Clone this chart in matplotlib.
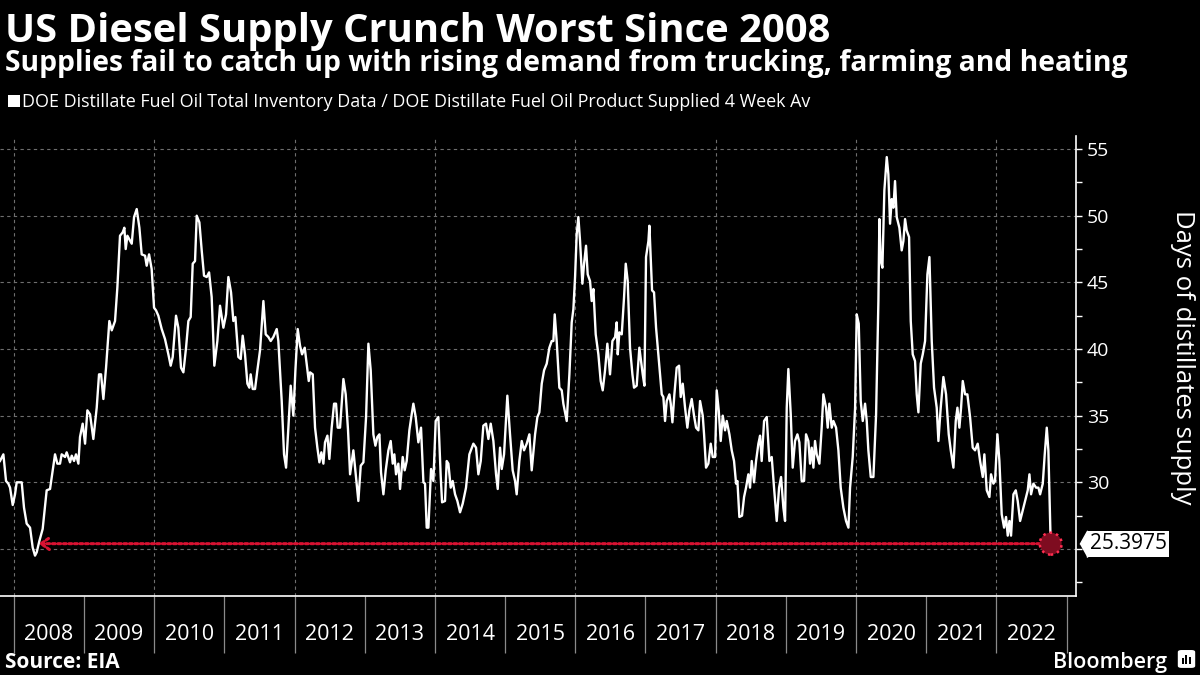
import matplotlib

matplotlib.use("Agg")
import matplotlib.pyplot as plt
from matplotlib.patches import FancyBboxPatch, Rectangle
from matplotlib.transforms import blended_transform_factory, offset_copy

# weekly days-of-supply ratio (decimal year, days)
years = [
    2007.803, 2007.851, 2007.889, 2007.922, 2007.946, 2007.984, 2008.017, 2008.041, 2008.112, 2008.145,
    2008.183, 2008.231, 2008.269, 2008.302, 2008.326, 2008.364, 2008.411, 2008.468, 2008.516, 2008.587,
    2008.620, 2008.658, 2008.682, 2008.730, 2008.753, 2008.801, 2008.825, 2008.858, 2008.886, 2008.920,
    2008.943, 2008.981, 2009.015, 2009.048, 2009.086, 2009.133, 2009.181, 2009.214, 2009.243, 2009.276,
    2009.314, 2009.361, 2009.395, 2009.442, 2009.475, 2009.513, 2009.551, 2009.575, 2009.594, 2009.618,
    2009.680, 2009.713, 2009.751, 2009.789, 2009.822, 2009.870, 2009.893, 2009.927, 2009.964, 2009.998,
    2010.026, 2010.059, 2010.107, 2010.154, 2010.202, 2010.235, 2010.264, 2010.311, 2010.344, 2010.382,
    2010.416, 2010.454, 2010.487, 2010.520, 2010.549, 2010.582, 2010.606, 2010.644, 2010.677, 2010.710,
    2010.748, 2010.782, 2010.819, 2010.857, 2010.900, 2010.938, 2010.986, 2011.024, 2011.057, 2011.095,
    2011.128, 2011.157, 2011.199, 2011.233, 2011.261, 2011.294, 2011.328, 2011.356, 2011.375, 2011.404,
    2011.437, 2011.470, 2011.508, 2011.556, 2011.589, 2011.627, 2011.660, 2011.698, 2011.746, 2011.769,
    2011.817, 2011.850, 2011.879, 2011.912, 2011.945, 2011.983, 2012.012, 2012.045, 2012.078, 2012.107,
    2012.145, 2012.183, 2012.202, 2012.221, 2012.259, 2012.292, 2012.325, 2012.354, 2012.382, 2012.411,
    2012.434, 2012.468, 2012.496, 2012.529, 2012.563, 2012.591, 2012.615, 2012.648, 2012.696, 2012.729,
    2012.762, 2012.791, 2012.838, 2012.871, 2012.909, 2012.943, 2012.981, 2013.019, 2013.052, 2013.085,
    2013.123, 2013.152, 2013.180, 2013.209, 2013.232, 2013.266, 2013.299, 2013.337, 2013.370, 2013.399,
    2013.422, 2013.446, 2013.479, 2013.503, 2013.541, 2013.569, 2013.598, 2013.636, 2013.669, 2013.693,
    2013.726, 2013.764, 2013.802, 2013.836, 2013.859, 2013.883, 2013.907, 2013.945, 2013.978, 2014.011,
    2014.049, 2014.083, 2014.102, 2014.144, 2014.168, 2014.192, 2014.225, 2014.253, 2014.287, 2014.320,
    2014.358, 2014.396, 2014.443, 2014.491, 2014.548, 2014.586, 2014.619, 2014.653, 2014.690, 2014.728,
    2014.762, 2014.795, 2014.833, 2014.871, 2014.895, 2014.928, 2014.952, 2014.985, 2015.032, 2015.070,
    2015.108, 2015.142, 2015.165, 2015.203, 2015.237, 2015.270, 2015.308, 2015.346, 2015.379, 2015.427,
    2015.460, 2015.488, 2015.522, 2015.555, 2015.593, 2015.631, 2015.664, 2015.688, 2015.707, 2015.735,
    2015.773, 2015.807, 2015.830, 2015.878, 2015.916, 2015.949, 2015.973, 2015.997, 2016.020, 2016.044,
    2016.068, 2016.101, 2016.125, 2016.153, 2016.177, 2016.210, 2016.234, 2016.258, 2016.291, 2016.329,
    2016.362, 2016.391, 2016.424, 2016.457, 2016.495, 2016.529, 2016.567, 2016.590, 2016.605, 2016.628,
    2016.662, 2016.695, 2016.719, 2016.747, 2016.780, 2016.814, 2016.837, 2016.875, 2016.913, 2016.961,
    2016.985, 2017.008, 2017.042, 2017.056, 2017.075, 2017.094, 2017.122, 2017.151, 2017.184, 2017.208,
    2017.232, 2017.255, 2017.279, 2017.303, 2017.341, 2017.360, 2017.384, 2017.412, 2017.445, 2017.479,
    2017.502, 2017.531, 2017.564, 2017.597, 2017.626, 2017.659, 2017.692, 2017.721, 2017.754, 2017.778,
    2017.816, 2017.835, 2017.863, 2017.896, 2017.930, 2017.958, 2017.992, 2018.015, 2018.044, 2018.072,
    2018.101, 2018.134, 2018.158, 2018.196, 2018.229, 2018.262, 2018.291, 2018.310, 2018.338, 2018.376,
    2018.405, 2018.433, 2018.466, 2018.490, 2018.514, 2018.547, 2018.576, 2018.609, 2018.633, 2018.656,
    2018.690, 2018.728, 2018.766, 2018.799, 2018.832, 2018.870, 2018.904, 2018.932, 2018.965, 2018.989,
    2019.013, 2019.036, 2019.070, 2019.098, 2019.131, 2019.165, 2019.193, 2019.226, 2019.260, 2019.288,
    2019.321, 2019.345, 2019.369, 2019.393, 2019.416, 2019.440, 2019.478, 2019.511, 2019.535, 2019.573,
    2019.597, 2019.620, 2019.654, 2019.678, 2019.716, 2019.749, 2019.782, 2019.820, 2019.858, 2019.892,
    2019.915, 2019.953, 2019.987, 2020.010, 2020.039, 2020.067, 2020.096, 2020.129, 2020.153, 2020.176,
    2020.210, 2020.248, 2020.286, 2020.319, 2020.333, 2020.352, 2020.376, 2020.404, 2020.438, 2020.461,
    2020.485, 2020.509, 2020.533, 2020.556, 2020.580, 2020.618, 2020.651, 2020.675, 2020.699, 2020.722,
    2020.756, 2020.780, 2020.808, 2020.841, 2020.865, 2020.889, 2020.922, 2020.951, 2020.984, 2021.017,
    2021.046, 2021.079, 2021.112, 2021.150, 2021.174, 2021.207, 2021.245, 2021.283, 2021.321, 2021.350,
    2021.388, 2021.421, 2021.445, 2021.473, 2021.497, 2021.521, 2021.554, 2021.587, 2021.625, 2021.663,
    2021.696, 2021.734, 2021.768, 2021.806, 2021.829, 2021.863, 2021.901, 2021.924, 2021.958, 2021.981,
    2022.015, 2022.043, 2022.076, 2022.110, 2022.138, 2022.162, 2022.186, 2022.209, 2022.243, 2022.276,
    2022.304, 2022.338, 2022.376, 2022.409, 2022.447, 2022.471, 2022.494, 2022.528, 2022.566, 2022.599,
    2022.623, 2022.661, 2022.689, 2022.718, 2022.741, 2022.774,
]
days = [
    31.6, 32.1, 30.1, 29.9, 29.6, 28.3, 29.1, 30.0, 30.0, 28.1,
    26.9, 26.6, 25.1, 24.5, 24.75, 25.6, 26.5, 29.4, 29.5, 32.1,
    31.4, 31.4, 32.1, 31.9, 32.25, 31.5, 32.0, 31.6, 32.1, 31.4,
    33.4, 34.4, 32.9, 35.4, 35.1, 33.25, 35.6, 38.1, 38.1, 36.25,
    38.6, 42.1, 41.4, 42.1, 44.6, 48.5, 48.75, 49.1, 47.5, 48.5,
    47.9, 49.9, 50.5, 49.1, 47.1, 47.0, 46.25, 47.1, 46.0, 43.1,
    42.9, 42.5, 41.5, 40.75, 39.6, 38.75, 39.4, 42.5, 41.6, 38.6,
    38.25, 40.1, 42.1, 42.4, 46.4, 46.6, 50.0, 49.5, 47.4, 45.5,
    45.4, 45.75, 43.9, 38.75, 40.6, 43.25, 41.6, 42.6, 45.4, 44.25,
    42.1, 42.4, 39.4, 39.25, 41.0, 39.6, 37.4, 37.1, 38.1, 37.0,
    37.0, 38.4, 39.9, 43.6, 41.1, 40.9, 40.6, 40.9, 41.5, 40.6,
    36.1, 32.1, 31.1, 34.1, 37.25, 35.0, 38.4, 41.5, 40.25, 39.6,
    40.1, 38.4, 37.6, 38.25, 38.1, 34.1, 32.6, 31.5, 32.25, 31.4,
    33.0, 33.5, 31.75, 34.1, 35.9, 35.9, 34.1, 34.1, 37.75, 36.6,
    33.9, 30.6, 32.4, 30.6, 28.6, 31.25, 31.5, 34.9, 40.4, 38.4,
    33.6, 32.75, 33.4, 33.6, 30.75, 29.1, 30.9, 32.4, 33.1, 31.4,
    32.1, 30.6, 31.4, 29.5, 31.9, 30.9, 31.6, 33.9, 35.1, 35.9,
    34.9, 33.0, 34.1, 30.0, 29.9, 26.6, 26.6, 31.0, 30.1, 34.6,
    34.9, 30.4, 28.5, 28.6, 31.6, 31.4, 29.6, 30.1, 29.1, 28.6,
    27.75, 28.4, 29.6, 32.1, 32.9, 32.6, 30.6, 31.6, 34.25, 34.4,
    33.25, 34.4, 33.1, 30.6, 29.5, 32.6, 31.0, 32.1, 36.5, 33.6,
    30.9, 30.1, 29.1, 31.6, 33.1, 32.4, 32.9, 33.6, 30.9, 33.6,
    34.9, 35.25, 37.4, 38.4, 38.9, 40.1, 40.6, 40.6, 42.6, 40.6,
    37.1, 36.9, 35.9, 34.6, 38.1, 42.0, 43.0, 45.4, 48.6, 49.9,
    48.1, 44.9, 46.4, 47.75, 45.6, 45.1, 43.6, 44.5, 41.1, 39.6,
    37.6, 36.9, 38.4, 40.4, 38.1, 40.6, 40.9, 42.0, 39.6, 41.25,
    41.1, 43.9, 46.4, 45.1, 40.1, 38.1, 37.1, 37.25, 40.1, 38.1,
    37.25, 46.9, 48.1, 49.25, 46.9, 44.4, 44.25, 41.6, 39.6, 38.1,
    36.6, 36.4, 34.6, 36.1, 36.6, 35.9, 34.5, 36.6, 38.6, 38.75,
    36.4, 37.4, 35.6, 34.1, 35.4, 36.25, 35.0, 34.1, 33.9, 36.1,
    35.0, 33.6, 31.1, 31.4, 32.9, 31.9, 31.9, 36.9, 35.4, 33.1,
    35.0, 33.9, 34.6, 33.6, 32.4, 31.6, 29.9, 30.1, 27.4, 27.5,
    28.9, 29.6, 30.6, 29.6, 31.6, 30.0, 31.6, 32.9, 33.5, 31.6,
    34.6, 34.9, 31.6, 31.9, 29.6, 27.1, 29.6, 30.4, 28.1, 27.1,
    35.6, 38.5, 35.1, 31.1, 33.1, 33.6, 33.0, 30.1, 30.1, 33.6,
    33.1, 31.4, 32.6, 31.1, 33.1, 32.1, 31.4, 34.1, 36.6, 35.6,
    34.1, 35.9, 34.1, 34.6, 34.1, 32.4, 29.6, 28.1, 27.1, 26.6,
    29.6, 31.9, 35.6, 42.6, 41.9, 36.1, 34.6, 35.9, 34.6, 32.4,
    30.4, 30.4, 35.1, 43.6, 49.75, 46.6, 46.1, 51.9, 54.4, 53.1,
    49.4, 51.25, 50.6, 52.6, 49.9, 49.1, 47.4, 48.1, 49.75, 48.9,
    48.4, 42.1, 39.6, 39.1, 36.6, 35.25, 38.9, 39.6, 40.6, 45.6,
    46.9, 40.6, 37.1, 35.6, 33.1, 35.6, 37.9, 36.6, 33.6, 32.4,
    31.1, 34.6, 35.6, 34.1, 35.6, 37.6, 36.6, 36.6, 34.9, 32.6,
    32.4, 32.9, 31.6, 30.4, 32.1, 29.4, 28.9, 30.6, 29.9, 30.1,
    33.6, 31.6, 27.6, 26.6, 27.4, 26.0, 27.1, 26.0, 29.1, 29.4,
    28.6, 27.1, 27.9, 28.6, 29.4, 30.6, 29.1, 29.9, 29.6, 29.6,
    29.1, 29.9, 32.1, 34.1, 32.4, 25.3975,
]
# date when the series was last at the latest level (spring 2008)
last_seen_year = 2008.35

year_labels = list(range(2008, 2023))
y_ticks = [25, 30, 35, 40, 45, 50, 55]
y_minor = [22.5, 27.5, 32.5, 37.5, 42.5, 47.5, 52.5]

RED = "#d81232"
GRID = "#6e6e6e"

plt.rcParams["font.family"] = ["Open Sans", "DejaVu Sans"]

fig = plt.figure(figsize=(12, 6.75), dpi=100, facecolor="black")
ax = fig.add_axes([0.0, 0.117, 0.8964, 0.6815], facecolor="black")

ax.plot(years, days, color="white", lw=1.7, solid_joinstyle="round", zorder=3)

# red reference line back to the last time supply was this low
last_val = days[-1]
ax.annotate(
    "",
    xy=(last_seen_year, last_val),
    xytext=(years[-1], last_val),
    arrowprops=dict(
        arrowstyle="->,head_length=0.5,head_width=0.35",
        color=RED,
        lw=2.2,
        linestyle=(0, (0.9, 0.9)),
        shrinkA=0,
        shrinkB=0,
        mutation_scale=12,
    ),
    zorder=4,
)
ax.scatter(
    [years[-1]], [last_val], s=250, facecolor="#7e0c20", edgecolor="#ff2d50",
    linewidths=1.8, linestyle=":", zorder=5,
)

ax.set_xlim(2007.803, 2023.13)
ax.set_ylim(21.47, 55.98)

# x axis: long separators at year boundaries, labels centred in each year
ax.set_xticks(list(range(2008, 2024)))
ax.set_xticklabels([])
ax.set_xticks([y + 0.5 for y in year_labels], minor=True)
ax.set_xticklabels([str(y) for y in year_labels], minor=True)
ax.tick_params(axis="x", which="major", length=41, width=0.9, color="#8a8a8a", direction="out")
ax.tick_params(axis="x", which="minor", length=0, pad=20, labelsize=15.5, labelcolor="white")

for yr in year_labels[::2]:
    ax.axvline(yr, color=GRID, lw=0.8, ls=(0, (3, 3)), zorder=1)

# right-hand y axis
ax.yaxis.tick_right()
ax.set_yticks(y_ticks)
ax.set_yticklabels(["" if t == 25 else str(t) for t in y_ticks])
ax.set_yticks(y_minor, minor=True)
ax.tick_params(axis="y", which="both", length=4, width=1, color="white", direction="out")
ax.tick_params(axis="y", which="major", pad=4, labelsize=14, labelcolor="white")
ax.grid(axis="y", which="major", color=GRID, lw=0.8, ls=(0, (3, 3)), zorder=1)

for side in ["left", "top"]:
    ax.spines[side].set_visible(False)
for side in ["right", "bottom"]:
    ax.spines[side].set_color("white")
    ax.spines[side].set_linewidth(1.2)

# value tag on the axis
trans = blended_transform_factory(ax.transAxes, ax.transData)
ax.plot(
    [1.0], [last_val], marker=[(-0.28, 0), (0, 0.5), (0, -0.5)], ms=19, color="white",
    transform=offset_copy(trans, fig=fig, x=8.2, y=0, units="points"), clip_on=False, zorder=6,
)
ax.text(
    1.0, last_val, f"{last_val:.4f}", transform=offset_copy(trans, fig=fig, x=10, y=0, units="points"),
    ha="left", va="center", fontsize=15, color="black", clip_on=False, zorder=7,
    bbox=dict(boxstyle="square,pad=0.12", fc="white", ec="none"),
)

fig.text(0.985, 0.471, "Days of distillates supply", rotation=270, ha="center", va="center",
         fontsize=18.5, color="white")

# headings
fig.text(0.004, 0.938, "US Diesel Supply Crunch Worst Since 2008", fontsize=28.7, fontweight="bold",
         color="white", va="baseline")
fig.text(0.004, 0.895, "Supplies fail to catch up with rising demand from trucking, farming and heating",
         fontsize=20.3, fontweight="bold", color="white", va="baseline")
fig.patches.append(Rectangle((0.0068, 0.8415), 0.0098, 0.0175, transform=fig.transFigure,
                             facecolor="white", edgecolor="none"))
fig.text(0.018, 0.8415, "DOE Distillate Fuel Oil Total Inventory Data / DOE Distillate Fuel Oil Product Supplied 4 Week Av",
         fontsize=12.9, color="white", va="baseline")

# footer
fig.text(0.004, 0.0105, "Source: EIA", fontsize=15, fontweight="bold", color="white", va="baseline")
fig.text(0.973, 0.0105, "Bloomberg", fontsize=15.5, fontweight="semibold", color="white",
         ha="right", va="baseline")
fig.patches.append(FancyBboxPatch((0.9825, 0.0115), 0.0125, 0.0245, boxstyle="round,pad=0.001,rounding_size=0.003",
                                  transform=fig.transFigure, facecolor="white", edgecolor="none"))
for i, h in enumerate([0.008, 0.013, 0.010]):
    fig.patches.append(Rectangle((0.9851 + i * 0.0028, 0.0165), 0.0016, h, transform=fig.transFigure,
                                 facecolor="black", edgecolor="none"))

fig.savefig("out.png", dpi=100, facecolor="black")
